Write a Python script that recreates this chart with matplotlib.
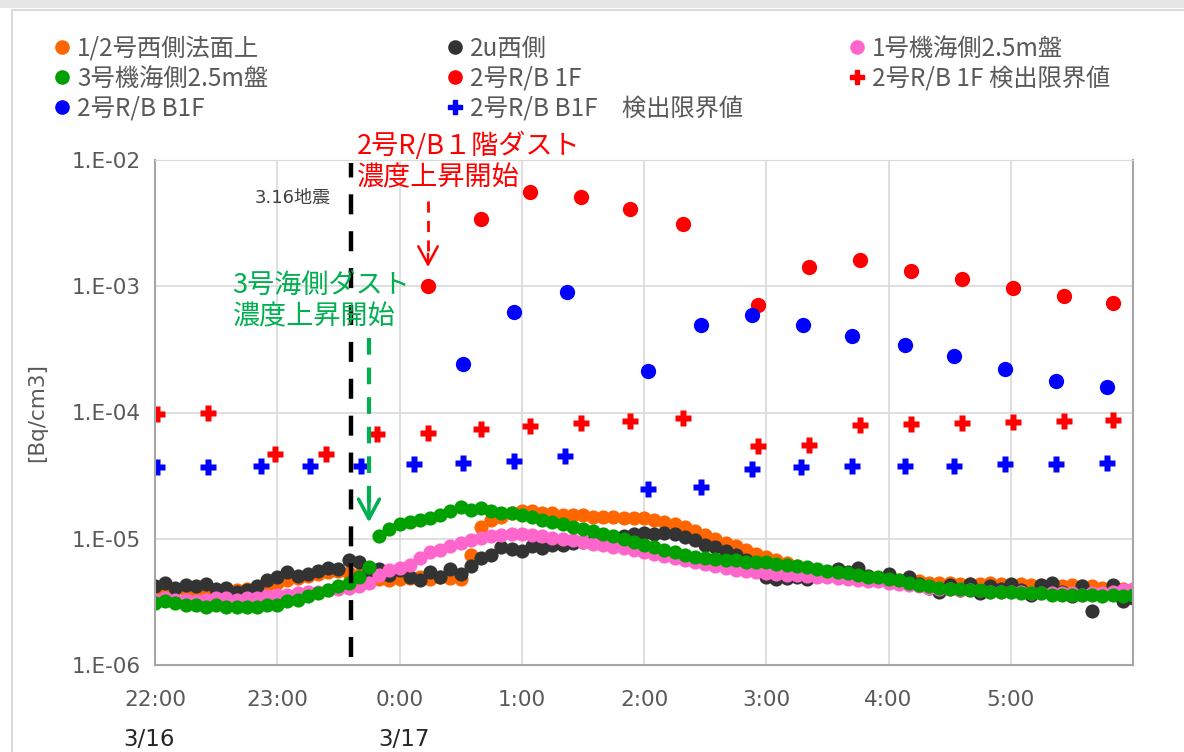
import numpy as np
import matplotlib
matplotlib.use('Agg')
import matplotlib.pyplot as plt
from matplotlib.lines import Line2D
from matplotlib.patches import Rectangle
from matplotlib.ticker import FuncFormatter, FixedLocator, NullLocator
import matplotlib.dates as mdates

plt.rcParams['font.family'] = ['Noto Sans CJK JP', 'DejaVu Sans']

# --- continuous dust monitors, one reading every 5 min from 3/16 22:00 (unit 1e-6 Bq/cm3)
t_mon = np.datetime64('2022-03-16T22:00') + np.arange(0, 481, 5).astype('timedelta64[m]')

orange_1e6 = [4.0, 4.1, 4.0, 3.9, 3.8, 3.8, 3.7, 3.8, 3.9, 4.0, 4.1, 4.3,
              4.5, 4.7, 4.9, 5.1, 5.3, 5.5, 5.6, 5.4, 5.2, 5.0, 4.8, 4.7,
              4.8, 4.9, 5.0, 4.8, 5.0, 4.9, 4.8, 7.5, 12.5, 14.0, 15.0, 16.0,
              16.5, 16.5, 16.0, 16.0, 15.5, 15.5, 15.5, 15.0, 15.0, 15.0, 14.5, 14.5,
              14.5, 14.0, 13.5, 13.0, 12.3, 11.5, 10.7, 10.0, 9.3, 8.7, 8.1, 7.6,
              7.2, 6.8, 6.4, 6.1, 5.9, 5.6, 5.3, 5.0, 4.9, 4.8, 4.7, 4.7,
              4.7, 4.7, 4.6, 4.6, 4.5, 4.5, 4.5, 4.4, 4.4, 4.4, 4.5, 4.4,
              4.3, 4.4, 4.3, 4.3, 4.4, 4.2, 4.3, 4.2, 4.2, 4.1, 4.1, 4.0,
              4.0]
black_1e6 = [4.2, 4.5, 4.1, 4.3, 4.2, 4.4, 4.0, 4.1, 3.8, 3.9, 4.2, 4.7,
             5.0, 5.5, 5.1, 5.3, 5.6, 5.9, 5.8, 6.8, 6.5, 5.6, 5.8, 5.2,
             5.7, 5.0, 4.7, 5.5, 5.0, 5.8, 5.3, 6.1, 7.0, 7.5, 8.6, 8.3,
             8.0, 8.7, 8.4, 8.9, 8.9, 9.2, 9.4, 9.6, 9.8, 10.2, 10.6, 11.0,
             11.2, 11.0, 11.1, 10.9, 10.3, 9.8, 9.0, 8.6, 8.0, 7.4, 6.8, 6.0,
             5.0, 4.8, 4.9, 5.0, 4.8, 5.4, 5.3, 5.8, 5.5, 5.9, 5.1, 4.9,
             5.3, 4.6, 5.0, 4.4, 4.1, 3.8, 4.3, 3.9, 4.4, 3.7, 4.2, 4.0,
             4.4, 3.9, 3.6, 4.3, 4.5, 3.8, 3.5, 4.2, 2.7, 3.6, 4.3, 3.2,
             3.4]
pink_1e6 = [3.3, 3.4, 3.3, 3.3, 3.2, 3.3, 3.4, 3.4, 3.3, 3.4, 3.4, 3.5,
            3.6, 3.6, 3.7, 3.8, 3.8, 3.9, 4.0, 4.1, 4.2, 4.5, 5.2, 5.7,
            5.9, 6.2, 7.0, 7.8, 8.2, 8.7, 9.3, 9.8, 10.2, 10.6, 10.8, 11.0,
            11.0, 10.8, 10.5, 10.2, 10.0, 9.7, 9.4, 9.1, 8.9, 8.6, 8.4, 8.2,
            7.9, 7.6, 7.3, 7.0, 6.8, 6.5, 6.3, 6.1, 5.9, 5.7, 5.6, 5.5,
            5.4, 5.3, 5.2, 5.2, 5.1, 5.0, 5.0, 4.9, 4.8, 4.7, 4.6, 4.6,
            4.5, 4.4, 4.3, 4.2, 4.1, 4.0, 4.0, 3.9, 3.9, 3.9, 3.8, 3.8,
            3.8, 3.8, 3.7, 3.7, 3.7, 3.7, 3.7, 3.6, 3.7, 3.7, 3.8, 3.9,
            4.0]
green_1e6 = [3.1, 3.2, 3.1, 3.0, 3.0, 2.9, 3.0, 2.9, 2.9, 2.9, 2.9, 3.0,
             3.0, 3.2, 3.3, 3.5, 3.7, 3.9, 4.2, 4.5, 5.0, 6.0, 10.5, 12.0,
             13.0, 13.5, 14.0, 14.5, 15.5, 16.5, 18.0, 17.0, 17.5, 16.5, 16.0, 16.0,
             15.5, 15.0, 14.0, 13.5, 13.0, 12.5, 12.0, 11.5, 11.0, 10.5, 10.0, 9.5,
             9.0, 8.6, 8.2, 7.9, 7.5, 7.2, 7.0, 6.9, 6.8, 6.8, 6.6, 6.5,
             6.5, 6.3, 6.2, 6.1, 6.0, 5.8, 5.6, 5.5, 5.4, 5.2, 5.0, 5.0,
             4.8, 4.7, 4.5, 4.3, 4.2, 4.1, 4.0, 4.0, 3.9, 3.9, 3.8, 3.8,
             3.8, 3.7, 3.7, 3.7, 3.6, 3.6, 3.6, 3.6, 3.6, 3.5, 3.6, 3.5,
             3.6]

# --- 2号R/B samples (Bq/cm3)
rb1f_times = ['00:14', '00:40', '01:04', '01:29', '01:53', '02:19', '02:56',
              '03:21', '03:46', '04:11', '04:36', '05:01', '05:26', '05:50']
rb1f_vals = [1.0e-3, 3.4e-3, 5.6e-3, 5.1e-3, 4.1e-3, 3.1e-3, 7.1e-4,
             1.42e-3, 1.62e-3, 1.32e-3, 1.15e-3, 9.6e-4, 8.3e-4, 7.4e-4]
rb1f_dl_times = ['22:01', '22:26', '22:59', '23:24', '23:49', '00:14', '00:40',
                 '01:04', '01:29', '01:53', '02:19', '02:56', '03:21', '03:46',
                 '04:11', '04:36', '05:01', '05:26', '05:50']
rb1f_dl_vals = [9.8e-5, 1.0e-4, 4.7e-5, 4.7e-5, 6.8e-5, 6.9e-5, 7.4e-5,
                7.8e-5, 8.2e-5, 8.6e-5, 9.0e-5, 5.4e-5, 5.5e-5, 7.9e-5,
                8.1e-5, 8.3e-5, 8.4e-5, 8.5e-5, 8.7e-5]
rbb1f_times = ['00:31', '00:56', '01:22', '02:02', '02:28', '02:53', '03:18',
               '03:42', '04:08', '04:32', '04:57', '05:22', '05:47']
rbb1f_vals = [2.4e-4, 6.2e-4, 9.0e-4, 2.15e-4, 4.9e-4, 5.9e-4, 4.9e-4,
              4.0e-4, 3.4e-4, 2.8e-4, 2.2e-4, 1.77e-4, 1.58e-4]
rbb1f_dl_times = ['22:01', '22:26', '22:52', '23:16', '23:41', '00:07', '00:31',
                  '00:56', '01:21', '02:02', '02:28', '02:53', '03:17', '03:42',
                  '04:08', '04:32', '04:57', '05:22', '05:47']
rbb1f_dl_vals = [3.7e-5, 3.7e-5, 3.8e-5, 3.8e-5, 3.8e-5, 3.9e-5, 4.0e-5,
                 4.1e-5, 4.5e-5, 2.5e-5, 2.55e-5, 3.6e-5, 3.7e-5, 3.8e-5,
                 3.8e-5, 3.8e-5, 3.9e-5, 3.9e-5, 4.0e-5]

quake_time = '23:36'
green_rise_time = '23:45'
red_rise_time = '00:14'
hour_times = ['22:00', '23:00', '00:00', '01:00', '02:00', '03:00', '04:00', '05:00']
hour_labels = ['22:00', '23:00', '0:00', '1:00', '2:00', '3:00', '4:00', '5:00']


def to_dt(hhmm):
    # times from 21:00 on belong to 3/16, the rest to 3/17
    day = '2022-03-16' if int(hhmm[:2]) >= 21 else '2022-03-17'
    return np.datetime64(f'{day}T{hhmm}')


def to_dts(lst):
    return np.array([to_dt(s) for s in lst])


fig = plt.figure(figsize=(11.84, 7.52), dpi=100)
ax = fig.add_axes([155 / 1184, 1 - 665 / 752, 978 / 1184, 505 / 752])

ms_dense = 10.2
ax.plot(t_mon, np.array(orange_1e6) * 1e-6, 'o', color='#FF6600', ms=ms_dense, mec='none', label='1/2号西側法面上')
ax.plot(t_mon, np.array(black_1e6) * 1e-6, 'o', color='#333333', ms=ms_dense, mec='none', label='2u西側')
ax.plot(t_mon, np.array(pink_1e6) * 1e-6, 'o', color='#FF66CC', ms=ms_dense, mec='none', label='1号機海側2.5m盤')
ax.plot(t_mon, np.array(green_1e6) * 1e-6, 'o', color='#00A000', ms=ms_dense, mec='none', label='3号機海側2.5m盤')
ax.plot(to_dts(rb1f_times), rb1f_vals, 'o', color='#FF0000', ms=11, mec='none', label='2号R/B 1F')
ax.plot(to_dts(rb1f_dl_times), rb1f_dl_vals, 'P', color='#FF0000', ms=11.5, mec='none', label='2号R/B 1F 検出限界値')
ax.plot(to_dts(rbb1f_times), rbb1f_vals, 'o', color='#0000FF', ms=11, mec='none', label='2号R/B B1F')
ax.plot(to_dts(rbb1f_dl_times), rbb1f_dl_vals, 'P', color='#0000FF', ms=11.5, mec='none', label='2号R/B B1F　検出限界値')

ax.set_yscale('log')
ax.set_ylim(1e-6, 1e-2)
ax.set_xlim(to_dt('22:00'), to_dt('06:00'))

# earthquake line
tq = to_dt(quake_time)
ax.plot([tq, tq], [1.15e-6, 9.5e-3], color='black', lw=3.2, dashes=(4.5, 3.8), solid_capstyle='butt')
ax.text(to_dt('23:26'), 5.0e-3, '3.16地震', ha='right', va='center', fontsize=13,
        color='#404040', family=['DejaVu Sans', 'Noto Sans CJK JP'])

# green arrow
tg = to_dt(green_rise_time)
ax.plot([tg, tg], [3.9e-4, 1.9e-5], color='#00B050', lw=3, dashes=(4, 3.1))
ax.annotate('', xy=(tg, 1.28e-5), xytext=(tg, 2.2e-5),
            arrowprops=dict(arrowstyle='->,head_length=1.4,head_width=0.75', color='#00B050', lw=2.6))
ax.text(to_dt('22:38'), 7.6e-4, '3号海側ダスト\n濃度上昇開始', ha='left', va='center',
        fontsize=19.5, color='#00B050', linespacing=1.2)

# red arrow
tr = to_dt(red_rise_time)
ax.plot([tr, tr], [4.7e-3, 1.7e-3], color='#FF0000', lw=2, dashes=(4, 3))
ax.annotate('', xy=(tr, 1.35e-3), xytext=(tr, 1.9e-3),
            arrowprops=dict(arrowstyle='->,head_length=1.3,head_width=0.7', color='#FF0000', lw=1.8))
ax.text(to_dt('23:39'), 9.8e-3, '2号R/B１階ダスト\n濃度上昇開始', ha='left', va='center',
        fontsize=19.5, color='#FF0000', linespacing=1.2, clip_on=False)

# axes styling
tick_font = ['DejaVu Sans', 'Noto Sans CJK JP']
ax.set_xticks(mdates.date2num(to_dts(hour_times)))
ax.set_xticklabels(hour_labels)
ax.yaxis.set_major_locator(FixedLocator([1e-6, 1e-5, 1e-4, 1e-3, 1e-2]))
ax.yaxis.set_minor_locator(NullLocator())
ax.yaxis.set_major_formatter(FuncFormatter(lambda v, p: f'1.E-{int(round(-np.log10(v))):02d}'))
ax.tick_params(length=0, labelsize=15.5, colors='#595959', pad=10)
ax.tick_params(axis='x', pad=18)
for lab in ax.get_xticklabels() + ax.get_yticklabels():
    lab.set_family(tick_font)
ax.grid(True, color='#D9D9D9', lw=1.2)
ax.set_axisbelow(True)
for side in ['left', 'bottom', 'right']:
    ax.spines[side].set_color('#A6A6A6')
    ax.spines[side].set_linewidth(1.5)
ax.spines['top'].set_color('#D9D9D9')
ax.set_ylabel('[Bq/cm3]', fontsize=15.5, color='#595959', labelpad=18, family=tick_font)

for d_lab, h in [('3/16', '21:57'), ('3/17', '00:02')]:
    ax.text(to_dt(h), -0.148, d_lab, transform=ax.get_xaxis_transform(), ha='center', va='center',
            fontsize=16.5, color='#262626', family=tick_font)

# legend, three columns laid out row by row like the original
handles, labels = ax.get_legend_handles_labels()
col_x = [55 / 1184, 448 / 1184, 850 / 1184]
for c in range(3):
    idx = list(range(c, len(handles), 3))
    fig.legend([Line2D([], [], marker=handles[i].get_marker(), color=handles[i].get_color(),
                       ls='none', ms=9.5 if handles[i].get_marker() == 'o' else 10.5) for i in idx],
               [labels[i] for i in idx], loc='upper left', bbox_to_anchor=(col_x[c], 1 - 36 / 752),
               frameon=False, fontsize=17.5, labelcolor='#595959', handlelength=0.6,
               handletextpad=0.32, labelspacing=0.15, borderpad=0, borderaxespad=0)

# outer frame of the screenshot
fig.add_artist(Rectangle((0, 1 - 8 / 752), 1, 8 / 752, transform=fig.transFigure, color='#E6E6E6', lw=0))
fig.add_artist(Line2D([12 / 1184, 12 / 1184], [0, 1 - 10 / 752], transform=fig.transFigure, color='#D9D9D9', lw=1.5))
fig.add_artist(Line2D([12 / 1184, 1], [1 - 10 / 752, 1 - 10 / 752], transform=fig.transFigure, color='#D9D9D9', lw=1.5))

fig.savefig('out.png', dpi=100)
